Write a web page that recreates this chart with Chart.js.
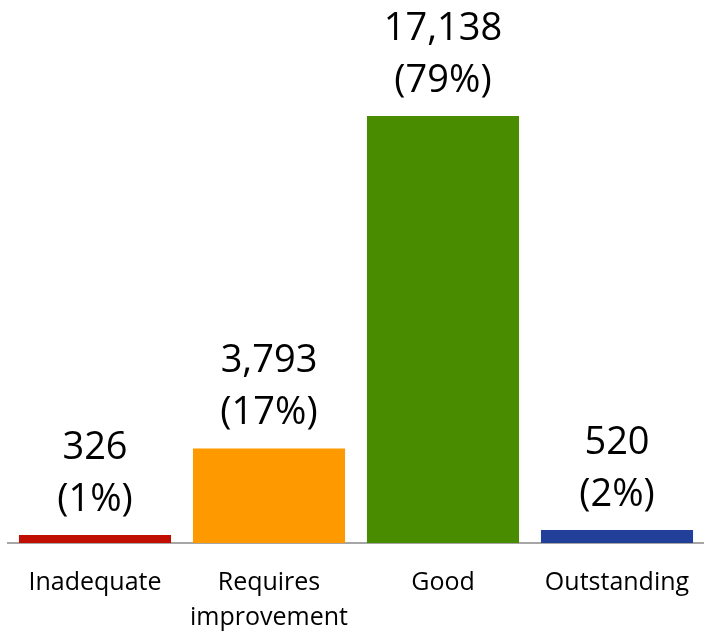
<!DOCTYPE html>
<html lang="en">
<head>
  <meta charset="UTF-8" />
  <title>Ratings</title>
  <script src="https://cdn.jsdelivr.net/npm/chart.js"></script>
  <style>
    body { margin: 0; background: #fff; }
    #wrap { width: 704px; height: 633px; }
  </style>
</head>
<body>
  <div id="wrap"><canvas id="ratingChart" width="704" height="633"></canvas></div>
  <script>
    const categories = [['Inadequate'], ['Requires', 'improvement'], ['Good'], ['Outstanding']];
    const counts = [326, 3793, 17138, 520];
    const percentLabels = ['(1%)', '(17%)', '(79%)', '(2%)'];
    const barColors = ['#c00f00', '#ff9900', '#4a8c00', '#22409a'];
    const yMax = 21800;

    const valueLabels = {
      id: 'valueLabels',
      afterDatasetsDraw(chart) {
        const ctx = chart.ctx;
        const meta = chart.getDatasetMeta(0);
        ctx.save();
        ctx.fillStyle = '#000';
        ctx.font = '38px "Open Sans"';
        ctx.textAlign = 'center';
        ctx.textBaseline = 'middle';
        meta.data.forEach((bar, i) => {
          ctx.fillText(counts[i].toLocaleString('en-US'), bar.x, bar.y - 87);
          ctx.fillText(percentLabels[i], bar.x, bar.y - 35);
        });
        ctx.restore();
      }
    };

    const ctx = document.getElementById('ratingChart').getContext('2d');
    new Chart(ctx, {
      type: 'bar',
      data: {
        labels: categories,
        datasets: [{
          data: counts,
          backgroundColor: barColors,
          barPercentage: 0.874,
          categoryPercentage: 1
        }]
      },
      options: {
        responsive: false,
        animation: false,
        layout: { padding: { left: 8, right: 0, top: 0, bottom: 0 } },
        plugins: { legend: { display: false }, tooltip: { enabled: false } },
        scales: {
          x: {
            // invisible tick marks push the labels down without adding side padding
            grid: { display: true, drawOnChartArea: false, drawTicks: true, tickLength: 22, color: 'rgba(0,0,0,0)' },
            border: { display: true, color: '#a6a6a6', width: 2 },
            afterFit(scale) { scale.height = 90; },
            ticks: {
              color: '#000',
              padding: 0,
              maxRotation: 0,
              font: { family: 'Open Sans', size: 25, lineHeight: 1.42 }
            }
          },
          y: {
            display: false,
            min: 0,
            max: yMax
          }
        }
      },
      plugins: [valueLabels]
    });
  </script>
</body>
</html>
